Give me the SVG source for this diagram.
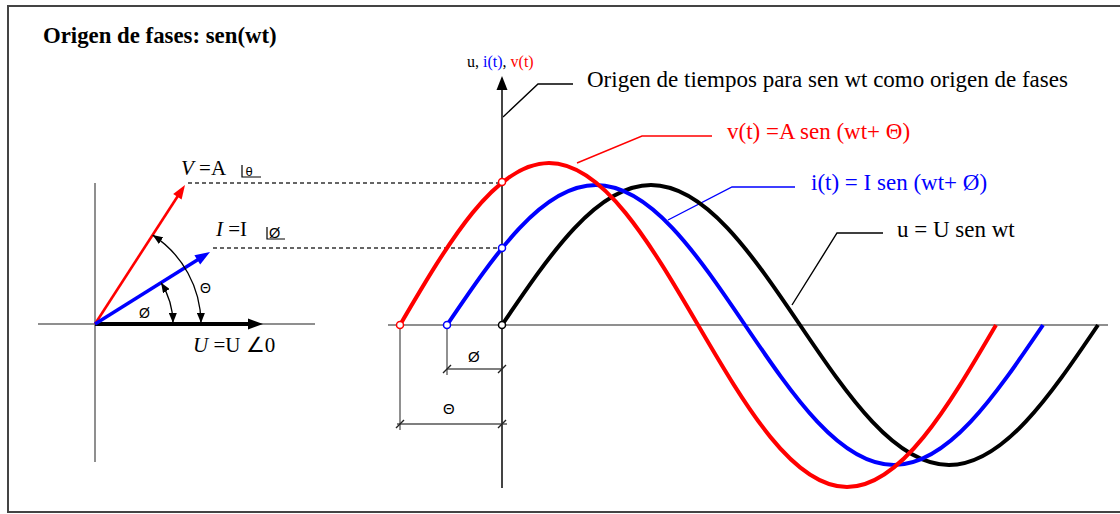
<svg xmlns="http://www.w3.org/2000/svg" width="1120" height="514" viewBox="0 0 1120 514">
<style>
.serif{font-family:"Liberation Serif","Times New Roman",serif;}
.sans{font-family:"Liberation Sans",Arial,sans-serif;}
.axis{stroke:#6a6a6a;stroke-width:1.5;fill:none;}
.vaxis{stroke:#444;stroke-width:2;fill:none;}
.dash{stroke:#333;stroke-width:1.3;stroke-dasharray:4 3;fill:none;}
.lead{stroke-width:1.4;fill:none;}
.curve{stroke-width:4;fill:none;stroke-linejoin:round;}
.dot{fill:#fff;stroke-width:1.5;}
.arc{stroke:#000;stroke-width:1.3;fill:none;marker-start:url(#ah);marker-end:url(#ah);}
.dim{stroke:#555;stroke-width:1.3;fill:none;}
</style>
<defs>
<marker id="ah" viewBox="0 0 10 8" refX="10" refY="4" markerWidth="10" markerHeight="8" orient="auto-start-reverse" markerUnits="userSpaceOnUse"><path d="M0,0 L10,4 L0,8 z" fill="#000"/></marker>
</defs>
<rect width="1120" height="514" fill="#fff"/>
<g id="frame" stroke="#444" stroke-width="2" fill="none">
<path d="M1120,6 H8 V512 H1120"/>
</g>
<g id="title"><text class="serif" x="43" y="43" font-size="22.8" font-weight="bold">Origen de fases: sen(wt)</text></g>

<g id="phasor-axes">
<line class="axis" x1="38" y1="324" x2="315" y2="324"/>
<line class="axis" x1="95" y1="183" x2="95" y2="462"/>
</g>
<g id="connectors">
<line class="dash" x1="188" y1="183" x2="502" y2="183"/>
<line class="dash" x1="213" y1="248" x2="502" y2="248"/>
<path class="lead" stroke="#000" d="M503,117 L538,84 H573"/>
<path class="lead" stroke="#f00" d="M577,163 L642,136 H712"/>
<path class="lead" stroke="#00f" d="M668,220 L732,187 H795"/>
<path class="lead" stroke="#000" d="M792,305 L837,233 H883"/>
</g>
<g id="phasor-U">
<line x1="95" y1="324" x2="249" y2="324" stroke="#000" stroke-width="4"/>
<polygon points="263,324 248,318.5 248,329.5" fill="#000"/>
<text class="serif" x="193" y="352" font-size="21"><tspan font-style="italic">U</tspan> =U ∠0</text>
</g>
<g id="phasor-V">
<line x1="95" y1="324" x2="178.5" y2="195" stroke="#f00" stroke-width="2.6"/>
<polygon points="185,185 181.6,199.5 173.2,194" fill="#f00"/>
<text class="serif" x="181" y="175" font-size="21"><tspan font-style="italic">V</tspan> =A</text>
<path d="M242,165 V177 H261" stroke="#000" stroke-width="1.2" fill="none"/>
<text class="sans" x="245.5" y="176" font-size="13">θ</text>
</g>
<g id="phasor-I">
<line x1="95" y1="324" x2="198.5" y2="259.2" stroke="#00f" stroke-width="3.4"/>
<polygon points="210,252 200.2,264.6 194.4,255.3" fill="#00f"/>
<text class="serif" x="216" y="236" font-size="21"><tspan font-style="italic">I</tspan> =I</text>
<path d="M267,227 V239 H285" stroke="#000" stroke-width="1.2" fill="none"/>
<text class="sans" x="269" y="238" font-size="14.5">Ø</text>
</g>
<g id="angle-theta">
<path class="arc" d="M201,323 A106,106 0 0 0 152.7,235.1"/>
<text class="sans" x="200" y="293" font-size="14">Θ</text>
</g>
<g id="angle-phi">
<path class="arc" d="M173,323 A78,78 0 0 0 161.1,282.7"/>
<text class="sans" x="139" y="318" font-size="14">Ø</text>
</g>

<g id="time-axes">
<line class="axis" x1="388" y1="325" x2="1108" y2="325"/>
<line class="vaxis" x1="502" y1="88" x2="502" y2="488"/>
<polygon points="502,76 496.5,90 507.5,90" fill="#000"/>
<text class="serif" x="467" y="67" font-size="16">u, <tspan fill="#00f">i(t)</tspan>, <tspan fill="#f00">v(t)</tspan></text>
</g>
<g id="phase-dims">
<line class="dim" x1="400" y1="325" x2="400" y2="430"/>
<line class="dim" x1="447" y1="325" x2="447" y2="375"/>
<line class="dim" x1="447" y1="369" x2="502" y2="369"/>
<line class="dim" x1="397" y1="424" x2="507" y2="424"/>
<path d="M443,373 L451,365 M498,373 L506,365 M396,428 L404,420 M498,428 L506,420" stroke="#222" stroke-width="1.4"/>
<text class="sans" x="468" y="362" font-size="15">Ø</text>
<text class="sans" x="443" y="414" font-size="15">Θ</text>
</g>

<g id="curve-u">
<path class="curve" stroke="#000" d="M502,325 C550.6,253.3 597.1,185 651,185 C704.9,185 751.4,253.3 800,325 C848.6,396.7 895.1,465 949,465 C1002.9,465 1049.4,396.7 1098,325"/>
</g>
<g id="curve-i">
<path class="curve" stroke="#00f" d="M447,325 C495.6,253.3 542.1,185 596,185 C649.9,185 696.4,253.3 745,325 C793.6,396.7 840.1,465 894,465 C947.9,465 994.4,396.7 1043,325"/>
</g>
<g id="curve-v">
<path class="curve" stroke="#f00" d="M400,325 C448.6,242 495.1,163 549,163 C602.9,163 649.4,242 698,325 C746.6,408 793.1,487 847,487 C900.9,487 947.4,408 996,325"/>
</g>
<g id="markers">
<circle class="dot" stroke="#f00" cx="400" cy="325" r="3.5"/>
<circle class="dot" stroke="#00f" cx="447" cy="325" r="3.5"/>
<circle class="dot" stroke="#000" cx="502" cy="325" r="3.5"/>
<circle class="dot" stroke="#f00" cx="502" cy="182" r="3.5"/>
<circle class="dot" stroke="#00f" cx="502" cy="248" r="3.5"/>
</g>

<g id="label-origin"><text class="serif" x="587" y="87" font-size="23">Origen de tiempos para sen wt como origen de fases</text></g>
<g id="label-v"><text class="serif" x="727" y="139" font-size="23" fill="#f00">v(t) =A sen (wt+ Θ)</text></g>
<g id="label-i"><text class="serif" x="811" y="190" font-size="23" fill="#00f">i(t) = I sen (wt+ Ø)</text></g>
<g id="label-u"><text class="serif" x="897" y="237" font-size="23">u = U sen wt</text></g>
</svg>
